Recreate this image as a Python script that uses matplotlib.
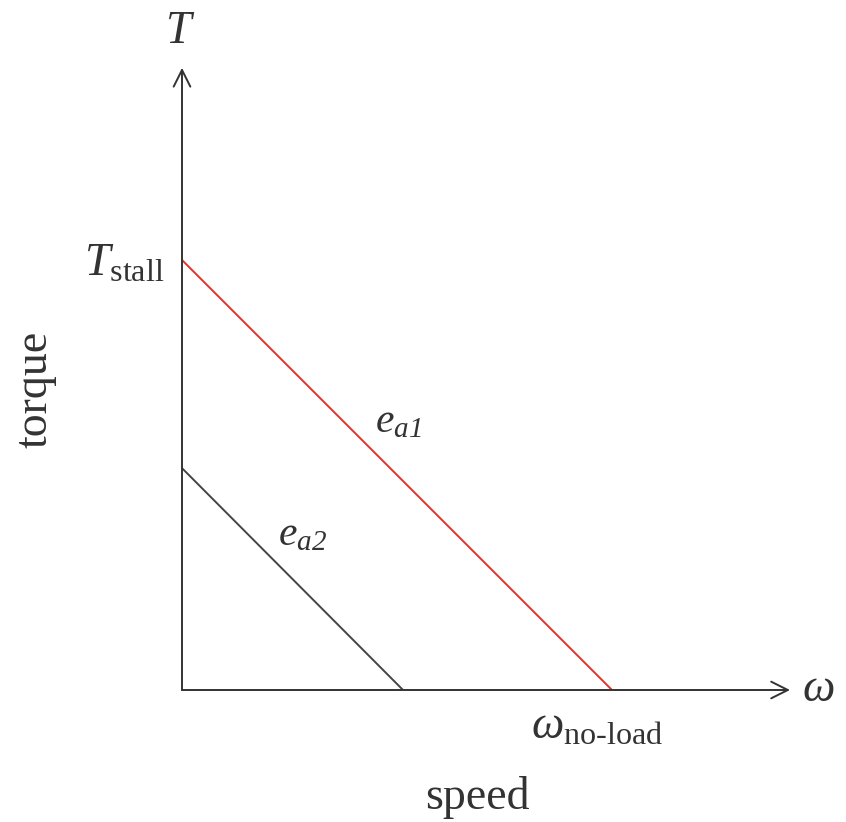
import matplotlib.pyplot as plt

plt.rcParams['font.family'] = 'Liberation Serif'
plt.rcParams['mathtext.fontset'] = 'custom'
plt.rcParams['mathtext.rm'] = 'Liberation Serif'
plt.rcParams['mathtext.it'] = 'Liberation Serif:italic'
# italic digits in subscripts (mathtext.it keeps digits upright)
plt.rcParams['mathtext.sf'] = 'Liberation Serif:italic'

# torque-speed lines (normalised units): stall torque and no-load speed
stall_torque = [1.0, 0.516]
no_load_speed = [1.0, 0.514]
line_labels = [r'$e_{\mathsf{a1}}$', r'$e_{\mathsf{a2}}$']
line_colors = ['#e2312b', '#444444']
label_pos = [(0.449, 0.623), (0.223, 0.36)]

fig = plt.figure(figsize=(8.46, 8.22), dpi=100)
ax = fig.add_axes([0, 0, 1, 1])
ax.set_xlim(-182 / 430, (846 - 182) / 430)
ax.set_ylim(-(822 - 690) / 430, 690 / 430)
ax.axis('off')

# axes with open arrow heads
ax.annotate('', xy=(1.414, 0), xytext=(0, 0),
            arrowprops=dict(arrowstyle='->', color='#333333', lw=1.4,
                            mutation_scale=30, shrinkA=0, shrinkB=0))
ax.annotate('', xy=(0, 1.447), xytext=(0, 0),
            arrowprops=dict(arrowstyle='->', color='#333333', lw=1.4,
                            mutation_scale=30, shrinkA=0, shrinkB=0))

for T, w, lab, c, pos in zip(stall_torque, no_load_speed, line_labels, line_colors, label_pos):
    ax.plot([0, w], [T, 0], color=c, lw=1.4, solid_capstyle='butt')
    ax.text(pos[0], pos[1], lab, fontsize=30, color='#333333', ha='left', va='center')

fs = 33
ax.text(-0.005, 1.53, r'$T$', fontsize=fs, color='#333333', ha='center', va='center')
ax.text(-0.04, 0.99, r'$T_{\mathrm{stall}}$', fontsize=fs, color='#333333', ha='right', va='center')
ax.text(1.479, 0.0, r'$\omega$', fontsize=fs, color='#333333', ha='center', va='center')
ax.text(0.965, -0.088, r'$\omega_{\mathrm{no\text{-}load}}$', fontsize=fs, color='#333333',
        ha='center', va='center')
ax.text(-0.342, 0.698, 'torque', fontsize=fs, color='#333333', rotation=90,
        ha='center', va='center')
ax.text(0.688, -0.251, 'speed', fontsize=fs, color='#333333', ha='center', va='center')

plt.savefig('out.png')
